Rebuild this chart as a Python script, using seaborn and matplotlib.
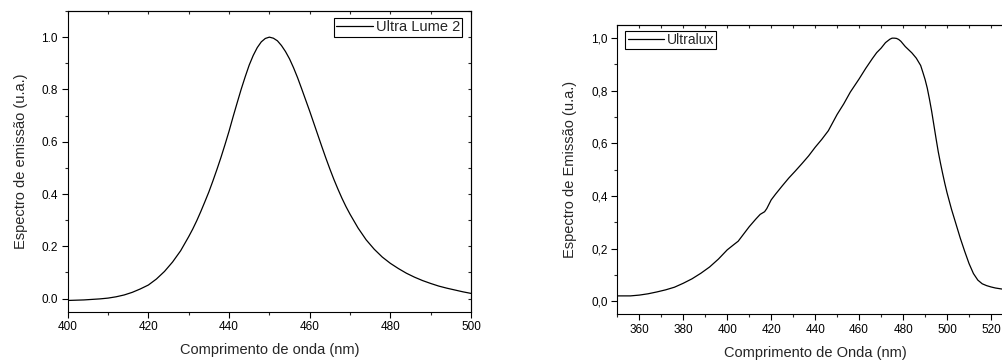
import numpy as np
import pandas as pd
import matplotlib
matplotlib.use("Agg")
import matplotlib.pyplot as plt
import seaborn as sns
from matplotlib.ticker import MultipleLocator, FuncFormatter

# ---- data: Ultra Lume 2 (left) ----
wl_lume = [400, 402, 404, 406, 408, 410, 412, 414, 416, 418, 420, 422, 424, 426, 428,
           430, 431, 432, 433, 434, 435, 436, 437, 438, 439,
           440, 441, 442, 443, 444, 445, 446, 447, 448, 449,
           450, 451, 452, 453, 454, 455, 456, 457, 458, 459,
           460, 461, 462, 463, 464, 465, 466, 467, 468, 469,
           470, 472, 474, 476, 478, 480, 482, 484, 486, 488, 490,
           492, 494, 496, 498, 500]
em_lume = [-0.007, -0.006, -0.005, -0.003, -0.001, 0.002, 0.007, 0.014, 0.024, 0.037,
           0.052, 0.075, 0.104, 0.140, 0.183,
           0.237, 0.266, 0.298, 0.333, 0.370, 0.408, 0.450, 0.494, 0.540, 0.589,
           0.640, 0.695, 0.748, 0.800, 0.848, 0.893, 0.930, 0.960, 0.982, 0.995,
           1.000, 0.996, 0.986, 0.968, 0.945, 0.917, 0.883, 0.845, 0.803, 0.760,
           0.717, 0.672, 0.627, 0.582, 0.538, 0.496, 0.456, 0.419, 0.384, 0.352,
           0.323, 0.270, 0.225, 0.189, 0.159, 0.135, 0.115, 0.097, 0.082, 0.069, 0.058,
           0.048, 0.040, 0.033, 0.026, 0.020]

# ---- data: Ultralux (right) ----
wl_lux = [350, 353, 356, 360, 364, 368, 372, 376, 380, 384, 388, 392, 396, 400, 403,
          405, 407, 410, 413, 415, 417, 418, 420, 422, 425, 428, 431, 434, 437, 440,
          443, 446, 450, 453, 456, 460, 463, 466, 468, 470, 472, 474, 475, 476, 477,
          478, 479, 480, 481, 482, 484, 486, 488, 489, 490, 491, 492, 493, 494, 495,
          496, 497, 498, 499, 500, 502, 504, 506, 508, 510, 512, 514, 516, 518, 520,
          522, 525]
em_lux = [0.020, 0.020, 0.020, 0.023, 0.028, 0.035, 0.043, 0.053, 0.068, 0.085,
          0.106, 0.130, 0.160, 0.195, 0.215, 0.228, 0.250, 0.283, 0.312, 0.330,
          0.340, 0.352, 0.385, 0.407, 0.438, 0.468, 0.495, 0.523, 0.552, 0.585,
          0.615, 0.648, 0.710, 0.750, 0.795, 0.845, 0.885, 0.922, 0.945, 0.962,
          0.983, 0.996, 1.000, 1.000, 0.999, 0.995, 0.988, 0.978, 0.968, 0.960,
          0.944, 0.924, 0.896, 0.870, 0.843, 0.810, 0.768, 0.722, 0.670, 0.618,
          0.568, 0.525, 0.485, 0.447, 0.412, 0.350, 0.295, 0.240, 0.190, 0.143,
          0.105, 0.080, 0.066, 0.059, 0.054, 0.050, 0.046]

xticks_lume = [400, 420, 440, 460, 480, 500]
yticks_lume = [0.0, 0.2, 0.4, 0.6, 0.8, 1.0]
xticks_lux = [360, 380, 400, 420, 440, 460, 480, 500, 520]
yticks_lux = [0.0, 0.2, 0.4, 0.6, 0.8, 1.0]

sns.set_style("ticks")
plt.rcParams['font.family'] = ['Liberation Sans', 'DejaVu Sans']
plt.rcParams['axes.linewidth'] = 0.8

fig = plt.figure(figsize=(10.03, 3.61), dpi=100)
W, H = 1003, 361

def px_axes(l, t, r, b):
    return fig.add_axes([l / W, 1 - b / H, (r - l) / W, (b - t) / H])

ax1 = px_axes(67.7, 11, 471, 311.7)
ax2 = px_axes(617.3, 25, 1013, 314.3)

df1 = pd.DataFrame({"wl": wl_lume, "em": em_lume})
df2 = pd.DataFrame({"wl": wl_lux, "em": em_lux})

sns.lineplot(data=df1, x="wl", y="em", ax=ax1, color="black", linewidth=0.9,
             label="Ultra Lume 2")
sns.lineplot(data=df2, x="wl", y="em", ax=ax2, color="black", linewidth=0.9,
             label="Ultralux")

ax1.set_xlim(400, 500)
ax1.set_ylim(-0.05, 1.1)
ax2.set_xlim(350, 530)
ax2.set_ylim(-0.05, 1.05)

fs_tick = 8.5
fs_lab = 10.5

for ax, xt, yt in [(ax1, xticks_lume, yticks_lume), (ax2, xticks_lux, yticks_lux)]:
    ax.set_xticks(xt)
    ax.set_yticks(yt)
    ax.xaxis.set_minor_locator(MultipleLocator(10))
    ax.yaxis.set_minor_locator(MultipleLocator(0.1))
    ax.tick_params(which="major", direction="out", length=4, width=0.8,
                   labelsize=fs_tick, colors="black", pad=3)
    ax.tick_params(which="minor", direction="out", length=2.5, width=0.8)
    for s in ax.spines.values():
        s.set_visible(True)
        s.set_color("black")
    sx = ax.secondary_xaxis("top")
    sx.set_xticks(xt)
    sx.xaxis.set_minor_locator(MultipleLocator(10))
    sx.tick_params(which="both", direction="in", length=2.5, width=0.8, labeltop=False)
    sy = ax.secondary_yaxis("right")
    sy.set_yticks(yt)
    sy.yaxis.set_minor_locator(MultipleLocator(0.1))
    sy.tick_params(which="both", direction="in", length=2.5, width=0.8, labelright=False)

ax1.yaxis.set_major_formatter(FuncFormatter(lambda v, p: f"{v:.1f}"))
ax2.yaxis.set_major_formatter(FuncFormatter(lambda v, p: f"{v:.1f}".replace(".", ",")))

ax1.set_xlabel("Comprimento de onda (nm)", fontsize=fs_lab, labelpad=7)
ax1.set_ylabel("Espectro de emissão (u.a.)", fontsize=fs_lab, labelpad=10)
ax2.set_xlabel("Comprimento de Onda (nm)", fontsize=fs_lab, labelpad=7)
ax2.set_ylabel("Espectro de Emissão (u.a.)", fontsize=fs_lab, labelpad=10)

leg_common = dict(frameon=True, fancybox=False, framealpha=1, edgecolor="black",
                  borderpad=0.15, handletextpad=0.2, borderaxespad=0)
l1 = ax1.legend(loc="upper right", bbox_to_anchor=(0.978, 0.976), fontsize=10.5,
                handlelength=2.5, **leg_common)
l2 = ax2.legend(loc="upper left", bbox_to_anchor=(0.0207, 0.98), fontsize=10,
                handlelength=2.6, **leg_common)
for l in (l1, l2):
    l.get_frame().set_linewidth(0.8)

fig.savefig("out.png", dpi=100)
